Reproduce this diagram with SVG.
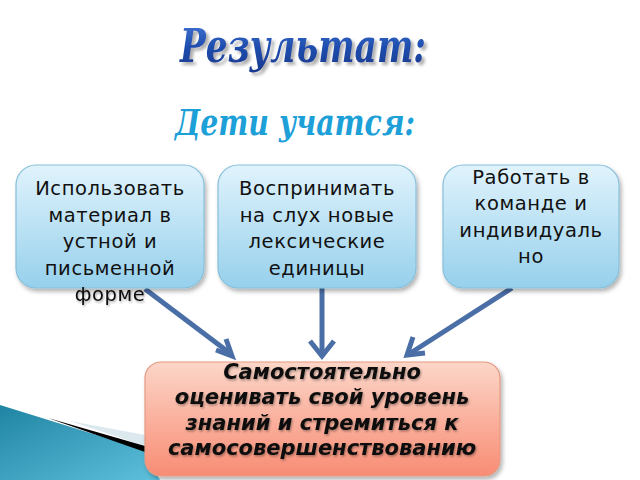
<svg xmlns="http://www.w3.org/2000/svg" width="640" height="480" viewBox="0 0 640 480">
<defs>
  <linearGradient id="gBlue" x1="0" y1="0" x2="0" y2="1">
    <stop offset="0" stop-color="#e0f3fc"/>
    <stop offset="1" stop-color="#96d0ec"/>
  </linearGradient>
  <linearGradient id="gRed" x1="0" y1="0" x2="0" y2="1">
    <stop offset="0" stop-color="#fcd6c8"/>
    <stop offset="1" stop-color="#f88c74"/>
  </linearGradient>
  <linearGradient id="gTitle" x1="0" y1="0" x2="0" y2="1">
    <stop offset="0" stop-color="#4677d6"/>
    <stop offset="0.5" stop-color="#1f4fb0"/>
    <stop offset="1" stop-color="#16388c"/>
  </linearGradient>
  <linearGradient id="gTeal" x1="0" y1="0" x2="1" y2="1">
    <stop offset="0" stop-color="#1f84a3"/>
    <stop offset="1" stop-color="#5ec0dc"/>
  </linearGradient>
  <filter id="sh" x="-10%" y="-10%" width="125%" height="130%">
    <feDropShadow dx="2" dy="3" stdDeviation="2" flood-color="#000" flood-opacity="0.3"/>
  </filter>
  <filter id="tsh" x="-10%" y="-20%" width="125%" height="150%">
    <feDropShadow dx="3" dy="3" stdDeviation="1.5" flood-color="#7a7a7a" flood-opacity="0.6"/>
  </filter>
  <filter id="txsh" x="-10%" y="-10%" width="120%" height="130%">
    <feDropShadow dx="1" dy="1.5" stdDeviation="0.8" flood-color="#000" flood-opacity="0.35"/>
  </filter>
  <style>
    .bb { fill: url(#gBlue); stroke: #86bfd9; stroke-width: 1.2; filter: url(#sh); }
    .rb { fill: url(#gRed); stroke: #e49a82; stroke-width: 1.2; filter: url(#sh); }
    .bt { font-family: "DejaVu Sans", sans-serif; font-size: 19.5px; fill: #111; text-anchor: middle; letter-spacing: 0.6px; }
    .rt { font-family: "DejaVu Sans", sans-serif; font-size: 21px; font-weight: bold; font-style: italic; fill: #111; text-anchor: middle; filter: url(#txsh); }
    .ser { font-family: "DejaVu Serif", serif; font-weight: bold; font-style: italic; }
    .ar { fill: none; stroke: #4a6ea6; stroke-width: 5; stroke-linecap: butt; stroke-linejoin: miter; }
  </style>
</defs>
<rect width="640" height="480" fill="#ffffff"/>

<g id="swoosh">
  <path d="M0,405 L145,450 L160,480 L0,480 Z" fill="url(#gTeal)"/>
  <path d="M70,421 L145,435 L145,446 Z" fill="#dbe8ee"/>
  <path d="M48,418 L145,446 L145,452 Z" fill="#000"/>
</g>

<g id="title">
  <text class="ser" x="180" y="62" font-size="46" textLength="246" lengthAdjust="spacingAndGlyphs" fill="url(#gTitle)" filter="url(#tsh)">Результат:</text>
</g>
<g id="subtitle">
  <text class="ser" x="175" y="135" font-size="35" textLength="240" lengthAdjust="spacingAndGlyphs" fill="#1d9fd8">Дети учатся:</text>
</g>

<g id="connectors">
  <path class="ar" d="M145,289 L231,354"/>
  <path class="ar" d="M216,350 L232,356 L226,339"/>
  <path class="ar" d="M322,288 L322,354"/>
  <path class="ar" d="M310,341 L322,356 L334,341"/>
  <path class="ar" d="M512,288 L409,354"/>
  <path class="ar" d="M413,337 L407,355 L425,353"/>
</g>

<g id="node1">
  <rect class="bb" x="16" y="165" width="188" height="123" rx="20"/>
  <text class="bt" x="110" y="195">Использовать</text>
  <text class="bt" x="110" y="222">материал в</text>
  <text class="bt" x="110" y="248">устной и</text>
  <text class="bt" x="110" y="275">письменной</text>
  <text class="bt" x="110" y="301" filter="url(#txsh)">форме</text>
</g>
<g id="node2">
  <rect class="bb" x="218" y="165" width="198" height="123" rx="20"/>
  <text class="bt" x="317" y="195">Воспринимать</text>
  <text class="bt" x="317" y="222">на слух новые</text>
  <text class="bt" x="317" y="248">лексические</text>
  <text class="bt" x="317" y="275">единицы</text>
</g>
<g id="node3">
  <rect class="bb" x="443" y="165" width="176" height="123" rx="20"/>
  <text class="bt" x="531" y="184">Работать в</text>
  <text class="bt" x="531" y="210">команде и</text>
  <text class="bt" x="531" y="237">индивидуаль</text>
  <text class="bt" x="531" y="263">но</text>
</g>
<g id="node4">
  <rect class="rb" x="145" y="362" width="355" height="114" rx="16"/>
  <text class="rt" x="322" y="379">Самостоятельно</text>
  <text class="rt" x="322" y="404">оценивать свой уровень</text>
  <text class="rt" x="322" y="430">знаний и стремиться к</text>
  <text class="rt" x="322" y="455">самосовершенствованию</text>
</g>
</svg>
